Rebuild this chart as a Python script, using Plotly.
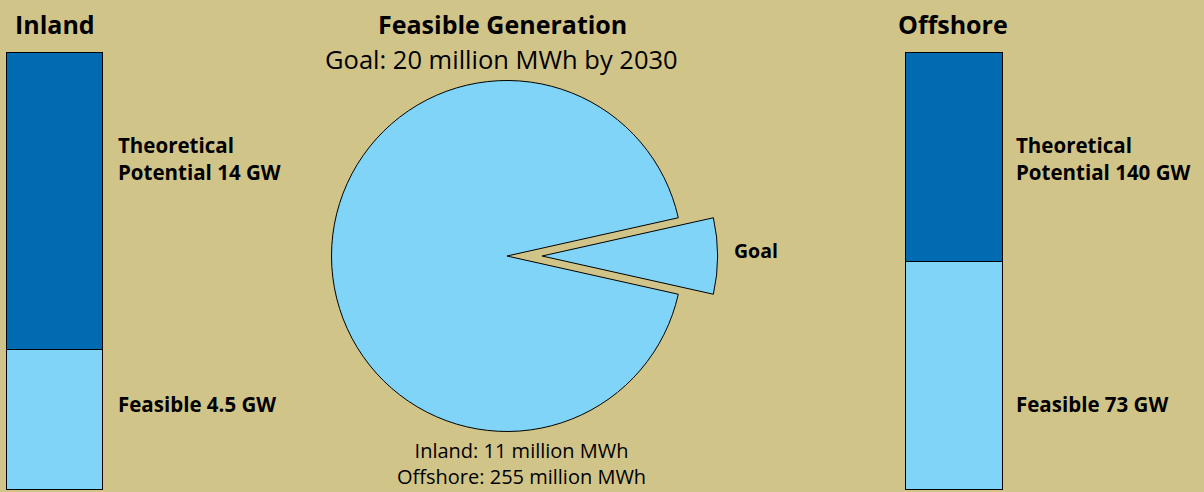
import plotly.graph_objects as go

# Canvas
W, H = 1204, 492
BG = "#d1c489"
DARK = "#006bb0"
LIGHT = "#7fd4f7"
FONT = "Open Sans"

# Wind capacity (GW) by region
regions = ["Inland", "Offshore"]
feasible_gw = [4.5, 73]
theoretical_gw = [14, 140]

# Feasible annual generation (million MWh) vs. 2030 goal
goal_mwh = 20
inland_mwh = 11
offshore_mwh = 255
goal_year = 2030

pie_labels = ["Goal", "Feasible"]
pie_values = [goal_mwh, inland_mwh + offshore_mwh]

# Pixel boxes for the two bars (left, right, top, bottom)
bar_boxes = [(7, 103, 53, 490), (906, 1003, 53, 490)]
PAD = 2

fig = go.Figure()
layout_axes = {}
for i, (name, feas, theo, box) in enumerate(zip(regions, feasible_gw, theoretical_gw, bar_boxes)):
    suffix = "" if i == 0 else str(i + 1)
    xa, ya = "x" + suffix, "y" + suffix
    fig.add_trace(go.Bar(x=[0], y=[feas], width=1, xaxis=xa, yaxis=ya,
                         marker=dict(color=LIGHT, line=dict(color="black", width=1)),
                         hoverinfo="skip", showlegend=False))
    fig.add_trace(go.Bar(x=[0], y=[theo - feas], width=1, xaxis=xa, yaxis=ya,
                         marker=dict(color=DARK, line=dict(color="black", width=1)),
                         hoverinfo="skip", showlegend=False))
    x0, x1, top, bottom = box
    bw, bh = x1 - x0, bottom - top
    xpad = PAD / bw
    ypad = PAD * theo / bh
    layout_axes["xaxis" + suffix] = dict(
        domain=[(x0 - PAD) / W, (x1 + PAD) / W], range=[-0.5 - xpad, 0.5 + xpad],
        visible=False, anchor=ya, fixedrange=True)
    layout_axes["yaxis" + suffix] = dict(
        domain=[1 - (bottom + PAD) / H, 1 - (top - PAD) / H], range=[-ypad, theo + ypad],
        visible=False, anchor=xa, fixedrange=True)

# Pie with the goal slice pulled out, centred on 3 o'clock
cx, cy, r = 507, 256, 175.5
pull = 0.2
half = r * (1 + pull)
goal_share = pie_values[0] / sum(pie_values)
fig.add_trace(go.Pie(
    labels=pie_labels, values=pie_values, sort=False, direction="clockwise",
    rotation=90 - goal_share * 180, pull=[pull, 0],
    marker=dict(colors=[LIGHT, LIGHT], line=dict(color="black", width=1)),
    textinfo="none", hoverinfo="skip", showlegend=False,
    domain=dict(x=[(cx - half) / W, (cx + half) / W],
                y=[1 - (cy + half) / H, 1 - (cy - half) / H])))


def note(text, x, y, size, bold=False, xanchor="center", align="center", yanchor="middle"):
    return dict(text=f"<b>{text}</b>" if bold else text, x=x / W, y=1 - y / H,
                xref="paper", yref="paper", xanchor=xanchor, yanchor=yanchor,
                align=align, showarrow=False,
                font=dict(family=FONT, size=size, color="black"))


annotations = [
    note(regions[0], 55, 24, 25, bold=True),
    note(regions[1], 953, 24, 25, bold=True),
    note("Feasible Generation", 502, 24, 25, bold=True),
    note(f"Goal: {goal_mwh} million MWh by {goal_year}", 501, 59, 25.5),
    note(f"Theoretical<br>Potential {theoretical_gw[0]} GW", 116, 158, 20.5,
         bold=True, xanchor="left", align="left"),
    note(f"Feasible {feasible_gw[0]} GW", 116, 404, 20.5, bold=True, xanchor="left"),
    note(f"Theoretical<br>Potential {theoretical_gw[1]} GW", 1014, 158, 20.5,
         bold=True, xanchor="left", align="left"),
    note(f"Feasible {feasible_gw[1]} GW", 1014, 404, 20.5, bold=True, xanchor="left"),
    note("Goal", 732, 250, 19.5, bold=True, xanchor="left"),
    note(f"Inland: {inland_mwh} million MWh<br>Offshore: {offshore_mwh} million MWh",
         521, 492, 20, yanchor="bottom"),
]

fig.update_layout(
    width=W, height=H, margin=dict(l=0, r=0, t=0, b=0),
    paper_bgcolor=BG, plot_bgcolor=BG, barmode="stack", bargap=0,
    annotations=annotations, **layout_axes)

fig.write_html("out.html")
